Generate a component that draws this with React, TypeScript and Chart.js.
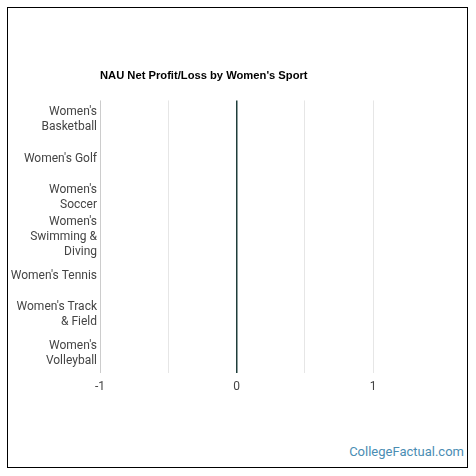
import React, { useEffect, useRef } from 'react';
import { Chart, registerables } from 'chart.js';

Chart.register(...registerables);

const sports: string[][] = [
    ["Women's", 'Basketball'],
    ["Women's Golf"],
    ["Women's", 'Soccer'],
    ["Women's", 'Swimming &', 'Diving'],
    ["Women's Tennis"],
    ["Women's Track", '& Field'],
    ["Women's", 'Volleyball'],
];
const netProfit: number[] = [0, 0, 0, 0, 0, 0, 0];
const tickValues: number[] = [-1, 0, 1];

const App: React.FC = () => {
    const canvasRef = useRef<HTMLCanvasElement>(null);
    const chartRef = useRef<Chart | null>(null);

    useEffect(() => {
        document.body.style.margin = '0';
        if (!canvasRef.current) return;
        if (chartRef.current) chartRef.current.destroy();

        chartRef.current = new Chart(canvasRef.current, {
            type: 'bar',
            data: {
                labels: sports,
                datasets: [{
                    label: 'Net Profit/Loss',
                    data: netProfit,
                    backgroundColor: '#1e4d4a',
                    barPercentage: 0.7,
                }],
            },
            options: {
                indexAxis: 'y',
                animation: false,
                responsive: true,
                maintainAspectRatio: false,
                layout: { padding: { top: 61, right: 95, bottom: 6.6, left: 0 } },
                plugins: {
                    legend: { display: false },
                    tooltip: { enabled: false },
                    title: {
                        display: true,
                        text: "NAU Net Profit/Loss by Women's Sport",
                        align: 'start',
                        fullSize: false,
                        color: '#000',
                        font: { family: '"Liberation Sans", Arial, sans-serif', size: 11.2, weight: 'bold', lineHeight: 1.29 },
                        padding: { top: 0, bottom: 17 },
                    },
                },
                scales: {
                    x: {
                        min: -1,
                        max: 1,
                        border: { display: false },
                        grid: {
                            drawTicks: false,
                            color: (ctx: any) => {
                                const v = ctx.tick?.value;
                                if (v === 0) return '#1f3e3b';
                                if (v === -1) return '#cccccc';
                                return '#e6e6e6';
                            },
                            lineWidth: (ctx: any) => (ctx.tick?.value === 0 ? 1.5 : 1),
                        },
                        ticks: {
                            stepSize: 0.5,
                            padding: 7,
                            color: '#444',
                            font: { family: 'Roboto, sans-serif', size: 12 },
                            callback: (v: any) => (tickValues.includes(Number(v)) ? String(v) : ''),
                        },
                    },
                    y: {
                        border: { display: false },
                        grid: { display: false, drawTicks: false },
                        afterFit: (scale: any) => { scale.width = 92; },
                        ticks: {
                            autoSkip: false,
                            padding: 3,
                            color: '#444',
                            font: { family: 'Roboto, sans-serif', size: 12, lineHeight: 1.25 },
                        },
                    },
                },
            },
        });

        return () => {
            chartRef.current?.destroy();
            chartRef.current = null;
        };
    }, []);

    return (
        <div style={{ position: 'relative', width: 476, height: 476, background: '#fff' }}>
            <div style={{
                position: 'absolute', left: 7, top: 7, width: 461, height: 461,
                border: '1.5px solid #000', boxSizing: 'border-box',
            }} />
            <div style={{ position: 'absolute', left: 8, top: 8, width: 460, height: 400 }}>
                <canvas ref={canvasRef}></canvas>
            </div>
            <div style={{
                position: 'absolute', right: 12, top: 444,
                fontFamily: 'Roboto, sans-serif', fontSize: 13, color: '#4a8db3',
            }}>
                CollegeFactual.com
            </div>
        </div>
    );
};

export default App;
